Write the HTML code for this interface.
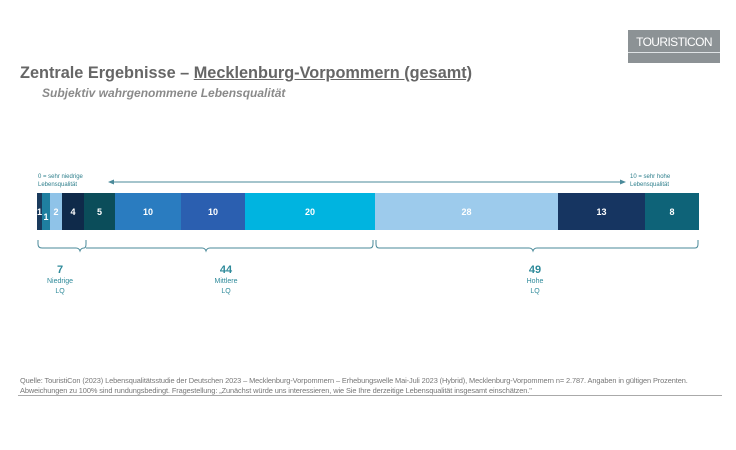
<!DOCTYPE html><html><head><meta charset="utf-8"><style>
body{margin:0;width:736px;height:450px;background:#fff;position:relative;font-family:"Liberation Sans",sans-serif;overflow:hidden}
.a{position:absolute}
.seg{position:absolute;top:193px;height:37px;color:#fff;font-weight:bold;font-size:9px;display:flex;align-items:center;justify-content:center}
.lab{position:absolute;text-align:center;color:#2e8a9a;font-size:7px;line-height:10px;width:60px}
.lab b{font-size:11px;display:block;line-height:13px}
</style></head><body>
<div class="a" style="left:628px;top:30px;width:92px;height:33px;background:#8c9295"></div>
<div class="a" style="left:628px;top:52px;width:92px;height:1px;background:#dfe3e5"></div>
<div class="a" style="left:628px;top:35px;width:92px;text-align:center;color:#fff;font-size:12px;letter-spacing:-0.6px">TOURISTICON</div>
<div class="a" style="left:20px;top:64px;font-size:16.3px;font-weight:bold;color:#666;letter-spacing:0px">Zentrale Ergebnisse – <u>Mecklenburg-Vorpommern (gesamt)</u></div>
<div class="a" style="left:42px;top:86px;font-size:12px;font-style:italic;font-weight:bold;color:#8a8a8a">Subjektiv wahrgenommene Lebensqualität</div>
<div class="a" style="left:38px;top:173px;font-size:6px;color:#2e7f8c;line-height:8px">0 = sehr niedrige<br>Lebensqualität</div>
<div class="a" style="left:630px;top:173px;font-size:6px;color:#2e7f8c;line-height:8px">10 = sehr hohe<br>Lebensqualität</div>
<svg class="a" style="left:0;top:0" width="736" height="450">
<g stroke="#4a8a9a" fill="none" stroke-width="1">
<line x1="112" y1="182" x2="622" y2="182"/>
<path d="M108 182l6-2.5v5z M626 182l-6-2.5v5z" fill="#4a8a9a" stroke="none"/>
<path d="M38 240v4q0 4 4 4h34q3 0 4 3q1-3 4-3h0q2 0 2-4v-4"/>
<path d="M86 248h116q3 0 4 3q1-3 4-3h160q3 0 3-4v-4"/>
<path d="M376 240v4q0 4 3 4h150q3 0 4 3q1-3 4-3h158q3 0 3-4v-4"/>
</g></svg>
<div class="seg" style="left:37px;width:5px;background:#1a3a5c">1</div>
<div class="seg" style="left:42px;width:8px;background:#1f7fa0;padding-top:10px;box-sizing:border-box">1</div>
<div class="seg" style="left:50px;width:12px;background:#8fc3e8">2</div>
<div class="seg" style="left:62px;width:22px;background:#0f2a4a">4</div>
<div class="seg" style="left:84px;width:31px;background:#0b4d5a">5</div>
<div class="seg" style="left:115px;width:66px;background:#2a7cc0">10</div>
<div class="seg" style="left:181px;width:64px;background:#2b5fb0">10</div>
<div class="seg" style="left:245px;width:130px;background:#00b4e0">20</div>
<div class="seg" style="left:375px;width:183px;background:#9dcbec">28</div>
<div class="seg" style="left:558px;width:87px;background:#163561">13</div>
<div class="seg" style="left:645px;width:54px;background:#0e6378">8</div>
<div class="lab" style="left:30px;top:264px"><b>7</b>Niedrige<br>LQ</div>
<div class="lab" style="left:196px;top:264px"><b>44</b>Mittlere<br>LQ</div>
<div class="lab" style="left:505px;top:264px"><b>49</b>Hohe<br>LQ</div>
<div class="a" style="left:20px;top:376px;font-size:7.4px;color:#777;line-height:10px;white-space:nowrap;letter-spacing:-0.1px">Quelle: TouristiCon (2023) Lebensqualitätsstudie der Deutschen 2023 – Mecklenburg-Vorpommern – Erhebungswelle Mai-Juli 2023 (Hybrid), Mecklenburg-Vorpommern n= 2.787. Angaben in gültigen Prozenten.<br>Abweichungen zu 100% sind rundungsbedingt. Fragestellung: „Zunächst würde uns interessieren, wie Sie Ihre derzeitige Lebensqualität insgesamt einschätzen."</div>
<div class="a" style="left:18px;top:395px;width:704px;height:1px;background:#aaa"></div>
</body></html>
